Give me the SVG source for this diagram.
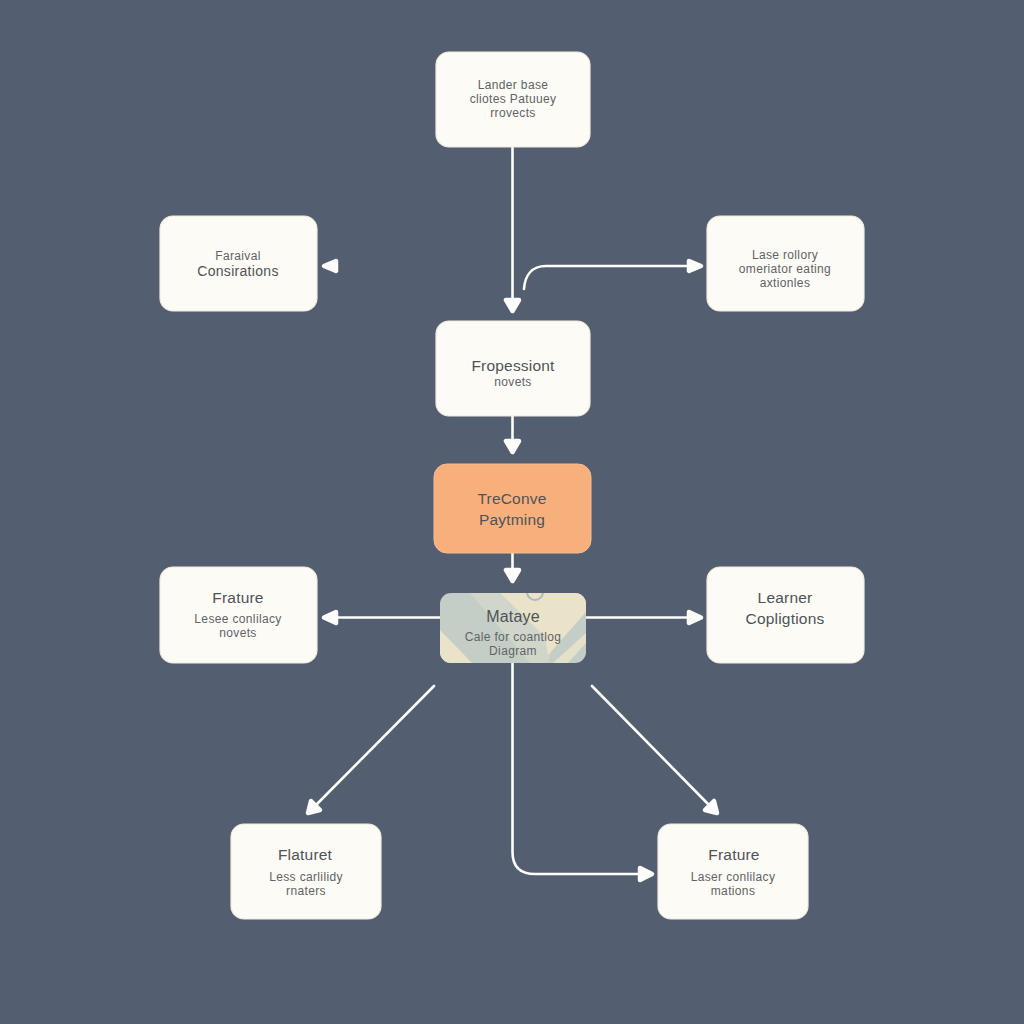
<svg xmlns="http://www.w3.org/2000/svg" width="1024" height="1024" viewBox="0 0 1024 1024">
<style>
text{font-family:"Liberation Sans","Noto Sans",sans-serif;text-anchor:middle;fill:#4f5358}
.n{fill:#fdfbf5;stroke:#f3ecdc;stroke-width:1.2}
.l{font-size:15.500px;letter-spacing:.2px}
.m{font-size:14px;letter-spacing:.3px}
.s{font-size:12px;letter-spacing:.35px;fill:#606366}
.c{fill:none;stroke:#fdfdfb;stroke-width:2.600;stroke-linecap:round;stroke-linejoin:round}
.a{fill:#fdfdfb;stroke:#fdfdfb;stroke-width:4.500;stroke-linejoin:round}
</style>
<defs>
<clipPath id="mc"><rect x="440" y="593" width="146" height="70" rx="11"/></clipPath>
</defs>
<rect width="1024" height="1024" fill="#535f70"/>
<g id="connectors">
<path class="c" d="M512.500 147V300"/>
<path class="a" d="M506 300H519L512.500 311Z"/>
<path class="c" d="M524 289C525 275 532 266 546 266H688"/>
<path class="a" d="M689 261L701 266L689 271Z"/>
<path class="a" d="M336 261L324 266L336 271Z"/>
<path class="c" d="M512.500 416V441"/>
<path class="a" d="M506 441H519L512.500 452Z"/>
<path class="c" d="M512.500 553V569"/>
<path class="a" d="M506 570H519L512.500 581Z"/>
<path class="c" d="M440 617.500H336"/>
<path class="a" d="M336 612L324 617.500L336 623Z"/>
<path class="c" d="M586 617.500H688"/>
<path class="a" d="M689 612L701 617.500L689 623Z"/>
<path class="c" d="M434 686L316 805"/>
<path class="a" d="M311 801L320 810L308 813Z"/>
<path class="c" d="M592 686L709 805"/>
<path class="a" d="M705 810L714 801L717 813Z"/>
<path class="c" d="M512.500 663V852C512.500 867 520 874 535 874H640"/>
<path class="a" d="M640 868L652 874L640 880Z"/>
</g>
<g id="node-top"><rect class="n" x="436" y="52" width="154" height="95" rx="13"/>
<text class="s" x="513" y="89">Lander base</text><text class="s" x="513" y="103">cliotes Patuuey</text><text class="s" x="513" y="117">rrovects</text></g>
<g id="node-left-upper"><rect class="n" x="160" y="216" width="157" height="95" rx="13"/>
<text class="s" x="238" y="260">Faraival</text><text class="m" x="238" y="276">Consirations</text></g>
<g id="node-right-upper"><rect class="n" x="707" y="216" width="157" height="95" rx="13"/>
<text class="s" x="785" y="259">Lase rollory</text><text class="s" x="785" y="273">omeriator eating</text><text class="s" x="785" y="287">axtionles</text></g>
<g id="node-mid"><rect class="n" x="436" y="321" width="154" height="95" rx="13"/>
<text class="l" x="513" y="371">Fropessiont</text><text class="s" x="513" y="386">novets</text></g>
<g id="node-orange"><rect x="434" y="464" width="157" height="89" rx="13" fill="#f7b07c" stroke="#f9bd8e"/>
<text class="l" x="512" y="504">TreConve</text><text class="l" x="512" y="525">Paytming</text></g>
<g id="node-patterned">
<rect x="440" y="593" width="146" height="70" rx="11" fill="#c4cec6"/>
<g clip-path="url(#mc)">
<path d="M470 593H500L553 645L548 663H530Z" fill="#d0d6ca"/>
<path d="M500 593H586V612L548 655L545 637Z" fill="#ebe3c9"/>
<path d="M440 630L472 663H440Z" fill="#ebe3c9"/>
<path d="M553 663L586 633V643L568 663Z" fill="#e4e0c9"/>
<circle cx="535" cy="592" r="8" fill="none" stroke="#aeb9bb" stroke-width="2"/>
</g>
<text class="l" x="513" y="622" style="font-size:16px">Mataye</text><text class="s" x="513" y="641">Cale for coantlog</text><text class="s" x="513" y="655">Diagram</text></g>
<g id="node-left-lower"><rect class="n" x="160" y="567" width="157" height="96" rx="13"/>
<text class="l" x="238" y="603">Frature</text><text class="s" x="238" y="623">Lesee conlilacy</text><text class="s" x="238" y="637">novets</text></g>
<g id="node-right-lower"><rect class="n" x="707" y="567" width="157" height="96" rx="13"/>
<text class="l" x="785" y="603">Learner</text><text class="l" x="785" y="624">Copligtions</text></g>
<g id="node-bottom-left"><rect class="n" x="231" y="824" width="150" height="95" rx="13"/>
<text class="l" x="305" y="860">Flaturet</text><text class="s" x="306" y="881">Less carlilidy</text><text class="s" x="306" y="895">rnaters</text></g>
<g id="node-bottom-right"><rect class="n" x="658" y="824" width="150" height="95" rx="13"/>
<text class="l" x="734" y="860">Frature</text><text class="s" x="733" y="881">Laser conlilacy</text><text class="s" x="733" y="895">mations</text></g>
</svg>
